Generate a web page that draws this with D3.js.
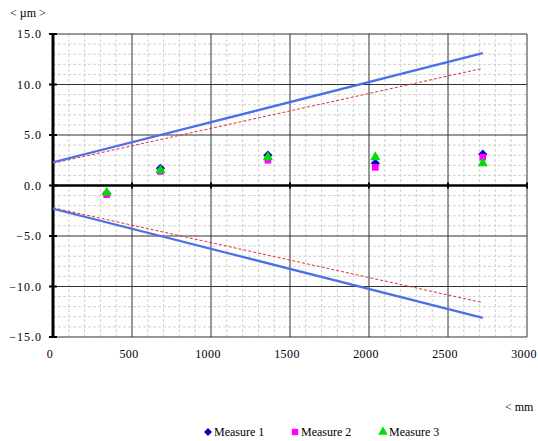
<!DOCTYPE html>
<html>
<head>
<meta charset="utf-8">
<script src="https://cdn.jsdelivr.net/npm/d3@7"></script>
<style>
  body { margin: 0; background: #fff; }
</style>
</head>
<body>
<svg id="chart" width="538" height="441" font-family="Liberation Serif" font-size="12"></svg>
<script>
// positions along the part, mm
const positions = [340, 680, 1360, 2040, 2720];
// measured deviations, µm
const measure1 = [-0.8, 1.7, 3.0, 2.2, 3.1];
const measure2 = [-0.9, 1.4, 2.5, 1.8, 2.8];
const measure3 = [-0.7, 1.5, 2.8, 2.8, 2.2];
// tolerance limits (start, end)
const limitX = [0, 2720];
const outerLimit = [2.3, 13.1];
const innerLimit = [2.2, 11.6];
const xTicks = [0, 500, 1000, 1500, 2000, 2500, 3000];
const yTicks = [-15, -10, -5, 0, 5, 10, 15];

const svg = d3.select('#chart');
const x = d3.scaleLinear().domain([0, 3000]).range([53, 527]);
const y = d3.scaleLinear().domain([-15, 15]).range([337, 34]);

// minor grid
const grid = svg.append('g');
grid.selectAll('.mx').data(d3.range(100, 3000, 100).filter(v => v % 500 !== 0))
    .join('line')
    .attr('x1', d => x(d)).attr('x2', d => x(d))
    .attr('y1', y(15)).attr('y2', y(-15))
    .attr('stroke', '#d0d0d0').attr('stroke-width', 1).attr('stroke-dasharray', '3,2');
grid.selectAll('.my').data(d3.range(-14, 15, 1).filter(v => v % 5 !== 0))
    .join('line')
    .attr('x1', x(0)).attr('x2', x(3000))
    .attr('y1', d => y(d)).attr('y2', d => y(d))
    .attr('stroke', '#d0d0d0').attr('stroke-width', 1).attr('stroke-dasharray', '3,2');

// major grid
grid.selectAll('.Mx').data(xTicks.slice(1))
    .join('line')
    .attr('x1', d => x(d)).attr('x2', d => x(d))
    .attr('y1', y(15)).attr('y2', y(-15))
    .attr('stroke', '#333').attr('stroke-width', 1);
grid.selectAll('.My').data(yTicks.filter(v => v !== 0))
    .join('line')
    .attr('x1', x(0)).attr('x2', x(3000))
    .attr('y1', d => y(d)).attr('y2', d => y(d))
    .attr('stroke', '#333').attr('stroke-width', 1);

// y axis (thick) and zero line
svg.append('line')
    .attr('x1', x(0)).attr('x2', x(0)).attr('y1', y(15)).attr('y2', y(-15))
    .attr('stroke', '#000').attr('stroke-width', 3);
svg.append('line')
    .attr('x1', x(0)).attr('x2', x(3000)).attr('y1', y(0)).attr('y2', y(0))
    .attr('stroke', '#000').attr('stroke-width', 2.5);

// y ticks and labels
svg.selectAll('.yt').data(yTicks).join('line')
    .attr('x1', x(0) - 4).attr('x2', x(0) + 4)
    .attr('y1', d => y(d)).attr('y2', d => y(d))
    .attr('stroke', '#000').attr('stroke-width', 2);
svg.selectAll('.yl').data(yTicks).join('text')
    .attr('x', 42).attr('y', d => y(d) + 4)
    .attr('text-anchor', 'end').attr('letter-spacing', 1)
    .text(d => d3.format('.1f')(d));
// x tick marks on zero line
svg.selectAll('.xt').data(xTicks.slice(1)).join('line')
    .attr('x1', d => x(d)).attr('x2', d => x(d))
    .attr('y1', y(0) - 3).attr('y2', y(0) + 3)
    .attr('stroke', '#000').attr('stroke-width', 2);
svg.selectAll('.xl').data(xTicks).join('text')
    .attr('x', d => x(d) - 3).attr('y', 358)
    .attr('text-anchor', 'middle').attr('letter-spacing', 0.4)
    .text(d => d);

// tolerance lines
const line = d3.line().x(d => x(d[0])).y(d => y(d[1]));
[1, -1].forEach(s => {
    svg.append('path')
        .attr('d', line(limitX.map((v, i) => [v, s * innerLimit[i]])))
        .attr('fill', 'none').attr('stroke', '#e03030').attr('stroke-width', 1)
        .attr('stroke-dasharray', '3,2');
    svg.append('path')
        .attr('d', line(limitX.map((v, i) => [v, s * outerLimit[i]])))
        .attr('fill', 'none').attr('stroke', '#4a6fe8').attr('stroke-width', 2.2);
});

// markers
const series = [
    { name: 'Measure 1', values: measure1, color: '#0000cc', shape: d3.symbolDiamond2, size: 55 },
    { name: 'Measure 2', values: measure2, color: '#ff00ff', shape: d3.symbolSquare, size: 45 },
    { name: 'Measure 3', values: measure3, color: '#00dd00', shape: d3.symbolTriangle, size: 45 }
];
series.forEach(s => {
    svg.append('g').selectAll('path').data(s.values).join('path')
        .attr('transform', (d, i) => `translate(${x(positions[i])},${y(d)})`)
        .attr('d', d3.symbol().type(s.shape).size(s.size))
        .attr('fill', s.color);
});

// axis unit labels
svg.append('text').attr('x', 10).attr('y', 17).text('< µm >');
svg.append('text').attr('x', 505).attr('y', 411).text('< mm');

// legend
const legX = [208, 295, 383];
series.forEach((s, i) => {
    svg.append('path')
        .attr('transform', `translate(${legX[i]},432)`)
        .attr('d', d3.symbol().type(s.shape).size(40))
        .attr('fill', s.color);
    svg.append('text').attr('x', legX[i] + 6).attr('y', 436).text(s.name);
});
</script>
</body>
</html>
